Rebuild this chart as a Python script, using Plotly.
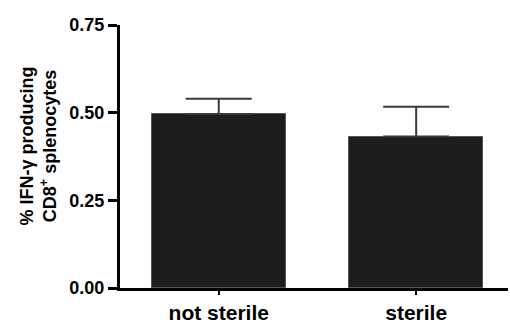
import plotly.graph_objects as go

categories = ["not sterile", "sterile"]
means = [0.496, 0.432]
sem = [0.044, 0.085]
y_ticks = [0.0, 0.25, 0.5, 0.75]
y_ticklabels = ["0.00", "0.25", "0.50", "0.75"]

FONT = "Liberation Sans, Arial, sans-serif"

fig = go.Figure()
fig.add_trace(go.Bar(
    x=[0, 1],
    y=means,
    width=0.68,
    marker=dict(color="#1b1d1f", line=dict(color="#555555", width=1)),
    error_y=dict(type="data", symmetric=False, array=sem, arrayminus=[0, 0],
                 color="#3a3a3a", thickness=2, width=33),
    showlegend=False,
))

fig.update_layout(
    width=510, height=322,
    margin=dict(l=120, r=2, t=25, b=34, autoexpand=False),
    paper_bgcolor="white", plot_bgcolor="white",
    font=dict(family=FONT, color="black"),
    bargap=0,
)
fig.update_xaxes(
    range=[-0.5, 1.465],
    tickmode="array", tickvals=[0, 1], ticktext=categories,
    tickfont=dict(size=21, family=FONT, weight="bold"),
    ticks="outside", ticklen=4, tickwidth=2, tickcolor="black",
    showline=True, linewidth=3, linecolor="black",
    showgrid=False, zeroline=False, automargin=False,
)
fig.update_yaxes(
    range=[0, 0.75],
    tickmode="array", tickvals=y_ticks, ticktext=y_ticklabels,
    tickfont=dict(size=18, family=FONT, weight="bold"),
    ticks="outside", ticklen=9, tickwidth=3, tickcolor="black",
    showline=True, linewidth=3, linecolor="black",
    showgrid=False, zeroline=False, automargin=False,
)
fig.add_annotation(
    text="% IFN-γ producing<br>CD8<sup>+</sup> splenocytes",
    xref="paper", yref="paper", x=-0.21, y=0.54,
    xanchor="center", yanchor="middle", textangle=-90,
    showarrow=False, align="center",
    font=dict(size=18, family=FONT, weight="bold", color="black"),
)

fig.write_html(
    "out.html",
    config={"displayModeBar": False},
    post_script="document.body.style.margin='0';document.body.style.overflow='hidden';",
)
